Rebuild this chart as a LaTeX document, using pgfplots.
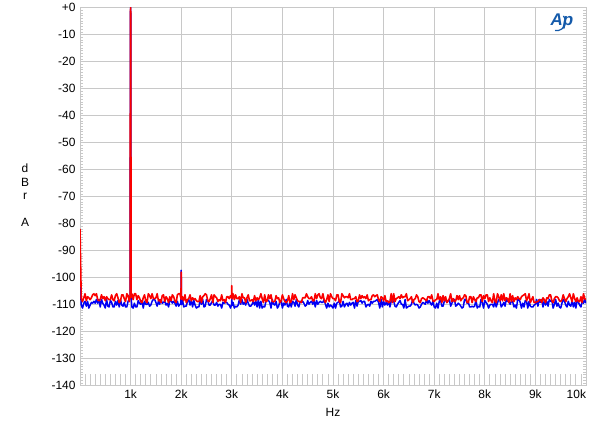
\documentclass[border=0pt]{standalone}
\usepackage{pgfplots}
\usepackage{pgfplotstable}
\pgfplotsset{compat=1.18}
\usepackage{fontspec}
\setmainfont{Liberation Sans}
\definecolor{gridgray}{RGB}{200,200,200}
\definecolor{apred}{RGB}{250,0,0}
\definecolor{apblue}{RGB}{0,0,245}
\definecolor{logoblue}{RGB}{20,90,170}

\pgfplotstableread{
x r b
0 -82.0 -101.0
25 -107.8 -110.2
50 -108.9 -111.3
75 -107.5 -109.5
100 -106.0 -108.8
125 -108.6 -110.6
150 -107.1 -108.8
175 -107.5 -111.3
200 -108.2 -110.2
225 -107.5 -109.2
250 -106.4 -109.5
275 -106.0 -108.8
300 -106.7 -109.5
325 -106.0 -108.1
350 -108.2 -109.5
375 -108.6 -108.1
400 -108.2 -110.9
425 -106.4 -108.1
450 -107.8 -109.5
475 -107.1 -110.2
500 -108.6 -111.3
525 -107.1 -108.1
550 -107.8 -110.6
575 -108.2 -110.9
600 -108.2 -108.5
625 -106.4 -109.2
650 -108.2 -110.9
675 -108.6 -110.9
700 -106.7 -108.8
725 -106.0 -110.2
750 -107.5 -108.5
775 -109.3 -110.9
800 -108.6 -108.1
825 -106.4 -110.2
850 -106.4 -110.6
875 -107.8 -109.2
900 -108.9 -110.9
925 -106.0 -110.9
950 -106.7 -108.8
975 -108.9 -108.1
990 -107.0 -107.0
994 -40 -40
997 -2 -2
1000 0 0
1003 -2 -2
1006 -40 -40
1010 -107.4 -107.4
1025 -106.0 -110.9
1050 -108.2 -111.3
1075 -106.0 -109.5
1100 -106.0 -110.9
1125 -108.2 -110.9
1150 -106.7 -108.5
1175 -107.5 -109.5
1200 -108.9 -109.9
1225 -109.3 -108.5
1250 -107.5 -111.3
1275 -106.4 -108.8
1300 -108.6 -109.9
1325 -109.3 -109.9
1350 -106.0 -109.2
1375 -106.7 -110.6
1400 -107.8 -110.2
1425 -106.0 -108.8
1450 -107.8 -108.1
1475 -107.8 -108.1
1500 -107.5 -109.2
1525 -106.0 -110.6
1550 -108.6 -108.8
1575 -108.2 -109.9
1600 -109.3 -108.1
1625 -106.7 -109.5
1650 -106.4 -109.2
1675 -108.9 -108.8
1700 -107.1 -110.2
1725 -107.8 -109.5
1750 -109.3 -110.9
1775 -107.1 -108.5
1800 -108.6 -108.5
1825 -106.4 -109.5
1850 -107.1 -108.8
1875 -108.6 -109.5
1900 -109.3 -110.6
1925 -106.4 -108.8
1950 -106.0 -110.6
1975 -106.0 -109.9
1995 -107.9 -109.8
2000 -98.0 -97.3
2005 -108.1 -110.0
2025 -107.1 -108.1
2050 -108.6 -110.9
2075 -106.4 -110.6
2100 -109.3 -110.6
2125 -108.2 -108.8
2150 -107.8 -108.1
2175 -106.4 -110.2
2200 -108.6 -108.5
2225 -107.5 -110.9
2250 -108.2 -108.5
2275 -107.8 -110.2
2300 -108.6 -111.3
2325 -108.9 -110.9
2350 -108.9 -110.9
2375 -106.7 -108.1
2400 -109.3 -109.9
2425 -107.1 -108.1
2450 -106.7 -110.9
2475 -106.0 -110.6
2500 -106.4 -108.1
2525 -108.6 -108.5
2550 -108.9 -110.2
2575 -107.8 -110.2
2600 -106.4 -109.2
2625 -109.3 -108.8
2650 -106.4 -110.2
2675 -107.1 -110.2
2700 -107.5 -109.2
2725 -108.9 -110.6
2750 -108.2 -109.9
2775 -108.6 -109.9
2800 -106.4 -111.3
2825 -108.6 -109.2
2850 -108.2 -109.5
2875 -109.3 -109.2
2900 -107.1 -109.2
2925 -107.1 -109.9
2950 -107.8 -110.2
2975 -106.7 -111.3
2995 -107.6 -110.1
3000 -103.0 -108.0
3005 -107.9 -110.4
3025 -106.0 -109.2
3050 -108.2 -111.3
3075 -106.4 -110.6
3100 -107.8 -110.9
3125 -107.8 -110.2
3150 -107.1 -108.1
3175 -109.3 -109.9
3200 -106.0 -108.1
3225 -107.5 -109.9
3250 -107.5 -109.2
3275 -109.3 -110.2
3300 -107.5 -108.1
3325 -106.4 -109.5
3350 -108.6 -110.6
3375 -108.6 -110.6
3400 -108.2 -109.9
3425 -108.9 -108.8
3450 -106.7 -110.2
3475 -108.6 -108.8
3500 -107.5 -110.9
3525 -108.2 -108.1
3550 -107.5 -111.3
3575 -106.0 -108.8
3600 -107.8 -111.3
3625 -109.3 -110.6
3650 -106.4 -110.9
3675 -108.9 -108.8
3700 -108.6 -108.1
3725 -106.4 -108.5
3750 -107.8 -109.2
3775 -106.4 -111.3
3800 -108.9 -108.1
3825 -108.9 -109.9
3850 -108.9 -110.2
3875 -106.7 -108.8
3900 -107.8 -111.3
3925 -107.5 -110.6
3950 -109.3 -108.8
3975 -108.6 -108.8
4000 -106.4 -111.3
4025 -107.8 -109.5
4050 -108.9 -110.2
4075 -109.3 -108.1
4100 -108.6 -110.6
4125 -106.7 -110.9
4150 -109.3 -108.8
4175 -108.9 -110.9
4200 -106.0 -108.8
4225 -108.2 -109.2
4250 -106.4 -110.6
4275 -107.5 -108.1
4300 -108.6 -110.2
4325 -108.9 -110.9
4350 -108.9 -108.8
4375 -109.3 -109.2
4400 -107.5 -108.8
4425 -107.5 -109.5
4450 -107.5 -110.6
4475 -106.0 -110.2
4500 -107.1 -108.5
4525 -107.8 -109.9
4550 -107.8 -109.2
4575 -107.1 -108.8
4600 -108.6 -109.9
4625 -108.6 -108.5
4650 -106.0 -110.9
4675 -107.8 -108.5
4700 -106.4 -109.9
4725 -106.0 -109.2
4750 -107.5 -108.8
4775 -107.8 -109.2
4800 -106.0 -109.2
4825 -108.2 -108.1
4850 -109.3 -109.9
4875 -108.2 -111.3
4900 -106.4 -109.5
4925 -108.9 -110.9
4950 -106.0 -110.2
4975 -107.1 -110.6
5000 -107.8 -111.3
5025 -107.8 -109.5
5050 -108.6 -111.3
5075 -106.4 -109.5
5100 -106.4 -109.2
5125 -108.9 -108.5
5150 -109.3 -110.9
5175 -106.0 -110.6
5200 -106.7 -108.8
5225 -107.5 -110.9
5250 -107.1 -109.9
5275 -107.1 -109.5
5300 -107.5 -110.6
5325 -106.0 -109.2
5350 -108.2 -110.2
5375 -108.2 -109.5
5400 -107.8 -109.2
5425 -107.8 -111.3
5450 -107.1 -108.5
5475 -108.9 -110.6
5500 -108.6 -108.8
5525 -106.4 -108.8
5550 -107.8 -108.5
5575 -106.7 -109.5
5600 -107.5 -108.8
5625 -107.1 -108.8
5650 -107.8 -110.9
5675 -106.4 -110.2
5700 -108.6 -109.9
5725 -108.2 -110.6
5750 -108.2 -108.8
5775 -106.7 -109.5
5800 -106.4 -108.8
5825 -107.1 -108.8
5850 -106.7 -108.5
5875 -106.4 -108.1
5900 -108.2 -109.2
5925 -108.9 -111.3
5950 -107.1 -108.1
5975 -107.5 -110.9
6000 -108.6 -108.8
6025 -106.7 -110.2
6050 -108.9 -109.2
6075 -108.6 -110.2
6100 -109.3 -108.8
6125 -108.9 -110.9
6150 -106.0 -108.8
6175 -109.3 -108.5
6200 -106.0 -108.8
6225 -108.9 -110.6
6250 -107.8 -110.9
6275 -107.5 -109.9
6300 -107.1 -109.2
6325 -107.8 -108.5
6350 -106.4 -109.9
6375 -107.5 -109.9
6400 -107.1 -111.3
6425 -107.1 -108.1
6450 -106.0 -111.3
6475 -108.6 -110.9
6500 -108.2 -110.6
6525 -107.8 -110.6
6550 -107.1 -109.9
6575 -109.3 -108.1
6600 -108.2 -109.5
6625 -107.8 -110.2
6650 -106.4 -109.9
6675 -107.1 -110.2
6700 -108.9 -111.3
6725 -109.3 -110.9
6750 -107.8 -109.9
6775 -107.5 -109.2
6800 -107.8 -109.5
6825 -108.2 -109.9
6850 -108.6 -108.1
6875 -107.1 -109.5
6900 -107.1 -108.5
6925 -107.8 -109.5
6950 -106.4 -110.2
6975 -108.6 -108.8
7000 -108.9 -110.9
7025 -108.2 -111.3
7050 -108.2 -109.5
7075 -106.0 -111.3
7100 -108.2 -108.8
7125 -107.1 -108.1
7150 -109.3 -110.6
7175 -106.7 -110.6
7200 -108.6 -108.8
7225 -107.1 -108.1
7250 -109.3 -109.2
7275 -108.6 -108.5
7300 -107.8 -108.1
7325 -106.0 -110.6
7350 -108.9 -109.5
7375 -107.8 -108.5
7400 -108.9 -108.1
7425 -108.6 -110.6
7450 -106.7 -110.2
7475 -108.2 -109.5
7500 -106.7 -109.9
7525 -108.6 -110.6
7550 -107.8 -111.3
7575 -107.5 -110.9
7600 -106.4 -108.1
7625 -106.7 -108.1
7650 -109.3 -109.5
7675 -109.3 -109.2
7700 -107.1 -110.9
7725 -107.1 -110.9
7750 -109.3 -110.6
7775 -107.1 -110.9
7800 -108.2 -110.6
7825 -108.9 -108.1
7850 -107.5 -111.3
7875 -107.5 -110.6
7900 -106.4 -110.9
7925 -106.4 -108.1
7950 -108.9 -109.2
7975 -106.7 -111.3
8000 -107.8 -108.5
8025 -106.4 -109.2
8050 -106.4 -109.9
8075 -108.9 -111.3
8100 -107.5 -110.2
8125 -108.6 -109.9
8150 -109.3 -109.9
8175 -106.0 -110.9
8200 -108.6 -108.5
8225 -109.3 -110.9
8250 -106.0 -109.5
8275 -107.1 -108.1
8300 -108.6 -108.5
8325 -106.4 -110.9
8350 -108.6 -110.2
8375 -106.0 -109.2
8400 -108.6 -110.6
8425 -107.5 -108.1
8450 -107.8 -108.8
8475 -109.3 -108.8
8500 -106.0 -109.9
8525 -108.9 -108.8
8550 -106.7 -108.8
8575 -108.9 -110.9
8600 -107.5 -110.2
8625 -108.2 -111.3
8650 -107.1 -108.1
8675 -107.8 -108.1
8700 -108.2 -109.2
8725 -107.1 -111.3
8750 -106.7 -109.5
8775 -106.4 -110.9
8800 -106.0 -108.5
8825 -108.6 -108.8
8850 -107.5 -111.3
8875 -106.0 -108.8
8900 -109.3 -110.6
8925 -108.2 -110.9
8950 -107.1 -110.9
8975 -109.3 -110.2
9000 -109.3 -109.9
9025 -108.9 -108.1
9050 -108.9 -110.6
9075 -108.2 -108.1
9100 -108.2 -109.2
9125 -109.3 -108.1
9150 -107.5 -110.9
9175 -108.2 -108.5
9200 -109.3 -110.2
9225 -107.5 -108.8
9250 -107.8 -110.6
9275 -106.4 -108.1
9300 -106.4 -108.8
9325 -108.6 -108.5
9350 -109.3 -111.3
9375 -107.8 -109.9
9400 -107.1 -108.1
9425 -107.1 -110.6
9450 -107.5 -109.5
9475 -108.6 -110.9
9500 -108.9 -111.3
9525 -108.2 -109.5
9550 -106.4 -108.1
9575 -107.8 -108.8
9600 -108.9 -110.2
9625 -107.8 -110.9
9650 -107.1 -108.8
9675 -106.0 -110.2
9700 -107.5 -110.6
9725 -108.9 -108.5
9750 -106.0 -110.9
9775 -107.8 -109.2
9800 -108.9 -111.3
9825 -107.5 -108.1
9850 -108.9 -109.2
9875 -108.9 -110.2
9900 -107.1 -110.9
9925 -109.3 -108.5
9950 -106.0 -109.5
9975 -107.8 -108.1
10000 -108.2 -109.5
}\spectrum

\begin{document}
\begin{tikzpicture}
\path (0,0) rectangle (600bp,426bp);
% x minor ticks (every 100 Hz) at bottom
\foreach \i in {1,...,99} {
  \draw[gridgray, line width=0.8bp] ({80bp+\i*5.06bp},41bp) -- ({80bp+\i*5.06bp},53bp);
}
\begin{axis}[
  at={(80bp,41bp)}, anchor=south west,
  scale only axis, width=506bp, height=378bp,
  xmin=0, xmax=10000, ymin=-140, ymax=0,
  scaled x ticks=false,
  xtick={1000,2000,3000,4000,5000,6000,7000,8000,9000,10000},
  xticklabels={1k,2k,3k,4k,5k,6k,7k,8k,9k,{\makebox[0pt][r]{10k}\hspace{3bp}}},
  ytick={-140,-130,-120,-110,-100,-90,-80,-70,-60,-50,-40,-30,-20,-10,0},
  yticklabels={-140,-130,-120,-110,-100,-90,-80,-70,-60,-50,-40,-30,-20,-10,+0},
  minor y tick num=9,
  minor tick length=3bp,
  major tick length=0pt,
  tick align=inside,
  grid=major,
  major grid style={gridgray, line width=0.9bp},
  minor tick style={gridgray, line width=0.6bp},
  axis line style={gridgray, line width=0.9bp},
  tick label style={font=\fontsize{12}{14}\selectfont},
  xticklabel style={yshift=-1bp},
  yticklabel style={xshift=-1bp},
  clip=true,
]
\addplot[apblue, line width=1.5bp, line join=round] table[x=x, y=b] {\spectrum};
\addplot[apred, line width=1.6bp, line join=round] table[x=x, y=r] {\spectrum};
\end{axis}
\node[font=\fontsize{12}{14}\selectfont] at (333bp,14bp) {Hz};
\node[font=\fontsize{12}{13.5}\selectfont, align=center] at (25bp,231bp) {d\\B\\r\\[13.5bp]A};
\node[font=\fontsize{17}{17}\selectfont\itshape\bfseries, text=logoblue, inner sep=0pt] at (562bp,405bp) {Ap};
\draw[logoblue, line width=1.2bp] (555bp,396bp) arc[start angle=-100, end angle=40, radius=9bp];
\end{tikzpicture}
\end{document}
